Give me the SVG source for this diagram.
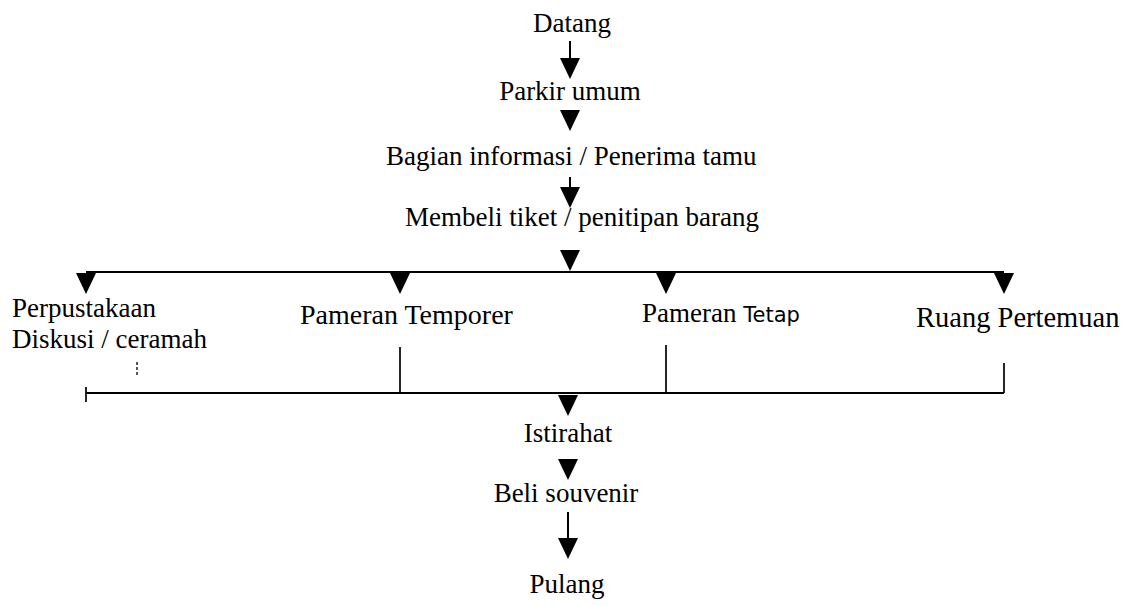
<svg xmlns="http://www.w3.org/2000/svg" xmlns:xlink="http://www.w3.org/1999/xlink" width="1129" height="606" viewBox="0 0 1129 606">
<style>
text{font-family:"Liberation Serif","Times New Roman",serif;font-size:27px;fill:#000}
.ln{stroke:#000;stroke-width:2;fill:none}
.vl{stroke:#000;stroke-width:1.7;fill:none}
.tetap{font-family:"DejaVu Sans",sans-serif;font-size:21px}
.big{font-size:28.5px}
.mid{font-size:28px}
</style>
<defs>
<path id="tri" d="M-10,0 L10,0 L0,21 Z" fill="#000"/>
</defs>
<rect width="1129" height="606" fill="#fff"/>
<g id="connectors">
<line class="ln" x1="570" y1="41" x2="570" y2="60"/>
<use xlink:href="#tri" x="570" y="58"/>
<use xlink:href="#tri" x="570" y="110"/>
<line class="ln" x1="570" y1="177" x2="570" y2="190"/>
<use xlink:href="#tri" x="570" y="187"/>
<use xlink:href="#tri" x="570" y="250"/>
<line class="ln" x1="86" y1="272" x2="1004" y2="272"/>
<use xlink:href="#tri" x="86" y="273"/>
<use xlink:href="#tri" x="400" y="273"/>
<use xlink:href="#tri" x="666" y="273"/>
<use xlink:href="#tri" x="1004" y="273"/>
<line class="vl" x1="400" y1="347" x2="400" y2="393"/>
<line class="vl" x1="666" y1="345" x2="666" y2="393"/>
<line class="vl" x1="1004" y1="363" x2="1004" y2="393"/>
<line class="vl" x1="86" y1="387" x2="86" y2="402"/>
<line class="ln" x1="86" y1="393" x2="1004" y2="393"/>
<line x1="137" y1="362" x2="137" y2="376" stroke="#222" stroke-width="1.5" stroke-dasharray="3,2"/>
<use xlink:href="#tri" x="568" y="395"/>
<use xlink:href="#tri" x="568" y="459"/>
<line class="ln" x1="568" y1="512" x2="568" y2="540"/>
<use xlink:href="#tri" x="568" y="538"/>
</g>
<g id="datang"><text x="572" y="32" text-anchor="middle">Datang</text></g>
<g id="parkir"><text x="570" y="100" text-anchor="middle">Parkir umum</text></g>
<g id="informasi"><text x="386" y="165">Bagian informasi / Penerima tamu</text></g>
<g id="tiket"><text x="405" y="226">Membeli tiket / penitipan barang</text></g>
<g id="perpustakaan"><text x="12" y="317">Perpustakaan</text><text x="12" y="348">Diskusi / ceramah</text></g>
<g id="temporer"><text class="mid" x="300" y="324">Pameran Temporer</text></g>
<g id="tetap"><text x="642" y="322">Pameran <tspan class="tetap">Tetap</tspan></text></g>
<g id="pertemuan"><text class="big" x="916" y="327">Ruang Pertemuan</text></g>
<g id="istirahat"><text x="568" y="442" text-anchor="middle">Istirahat</text></g>
<g id="souvenir"><text x="566" y="502" text-anchor="middle">Beli souvenir</text></g>
<g id="pulang"><text x="567" y="593" text-anchor="middle">Pulang</text></g>
</svg>
